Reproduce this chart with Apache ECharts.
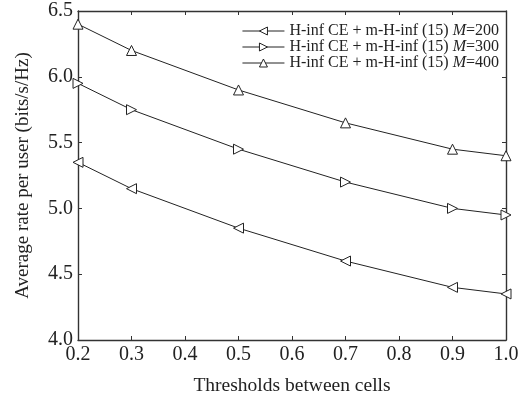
<!DOCTYPE html>
<html><head><meta charset="utf-8">
<script src="https://cdn.jsdelivr.net/npm/echarts@6/dist/echarts.min.js"></script>
<style>html,body{margin:0;padding:0;background:#fff}#c{width:526px;height:401px}</style>
</head><body><div id="c"></div>
<script>
var thresholds = [0.2, 0.3, 0.5, 0.7, 0.9, 1.0];
var rateM200 = [5.35, 5.15, 4.85, 4.6, 4.4, 4.35];
var rateM300 = [5.95, 5.75, 5.45, 5.2, 5.0, 4.95];
var rateM400 = [6.4, 6.2, 5.9, 5.65, 5.45, 5.4];
var seriesNames = ['M=200', 'M=300', 'M=400'];
var xTitle = 'Thresholds between cells';
var yTitle = 'Average rate per user (bits/s/Hz)';

var F = 'Liberation Serif';
var C = '#222';
function pts(v){ return thresholds.map(function(x,i){ return [x, v[i]]; }); }
function mk(name, vals, rot){
  return {name:name, type:'line', data:pts(vals), symbol:'triangle', symbolSize:10, symbolRotate:rot,
    lineStyle:{color:C,width:1}, itemStyle:{color:'#fff',borderColor:C,borderWidth:1}, z:3, animation:false};
}
var chart = echarts.init(document.getElementById('c'));
var axBase = {axisLine:{show:true,lineStyle:{color:'#333',width:1.4}}, axisTick:{show:true,inside:true,length:4,lineStyle:{color:'#333'}}, splitLine:{show:false}};
chart.setOption({
  animation:false,
  grid:{left:78,right:20,top:11,bottom:58},
  legend:{top:18,right:22,orient:'vertical',itemGap:0,itemWidth:42,itemHeight:10,
    itemStyle:{color:'#fff',borderColor:C,borderWidth:1},
    lineStyle:{color:C,width:1},
    textStyle:{fontFamily:F,fontSize:16,color:C,
      rich:{i:{fontFamily:F,fontSize:16,fontStyle:'italic',color:C}, n:{fontFamily:F,fontSize:16,color:C}}},
    formatter:function(n){ var p=n.split('='); return '{n|H-inf CE + m-H-inf (15) }{i|'+p[0]+'}{n|='+p[1]+'}'; },
    data:seriesNames},
  xAxis:[Object.assign({type:'value',min:0.2,max:1.0,interval:0.1,position:'bottom',
      name:xTitle,nameLocation:'middle',nameGap:36,nameTextStyle:{fontFamily:F,fontSize:19.5,color:C},
      axisLabel:{fontFamily:F,fontSize:20,color:C,margin:5,formatter:function(v){return v.toFixed(1);}}},axBase),
    Object.assign({type:'value',min:0.2,max:1.0,interval:0.1,position:'top',axisLabel:{show:false}},axBase)],
  yAxis:[Object.assign({type:'value',min:4.0,max:6.5,interval:0.5,position:'left',
      name:yTitle,nameLocation:'middle',nameGap:45,nameTextStyle:{fontFamily:F,fontSize:19,color:C},
      axisLabel:{fontFamily:F,fontSize:20,color:C,margin:5,formatter:function(v){return v.toFixed(1);}}},axBase),
    Object.assign({type:'value',min:4.0,max:6.5,interval:0.5,position:'right',axisLabel:{show:false}},axBase)],
  series:[mk(seriesNames[0],rateM200,90), mk(seriesNames[1],rateM300,-90), mk(seriesNames[2],rateM400,0)]
});
</script></body></html>
